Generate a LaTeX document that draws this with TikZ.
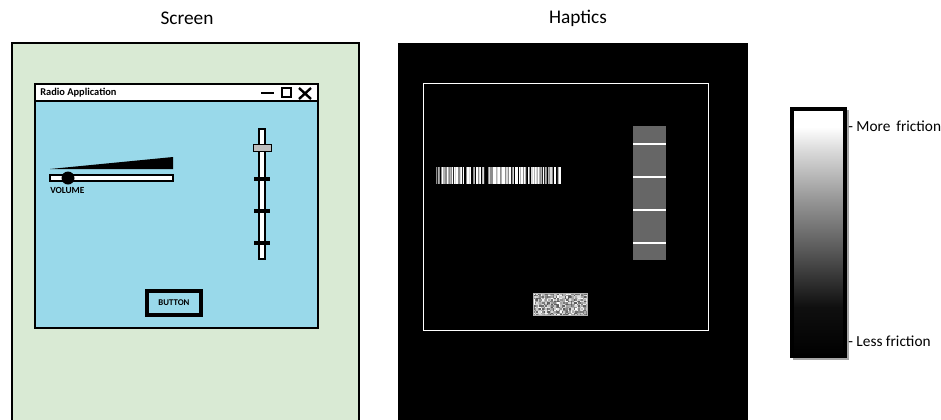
\documentclass[tikz,border=0pt]{standalone}
\usepackage{fontspec}
\setmainfont{Carlito}
\usetikzlibrary{positioning}
\definecolor{screengreen}{RGB}{217,234,212}
\definecolor{appblue}{RGB}{153,217,234}
\definecolor{hapgray}{RGB}{102,102,102}
\pgfdeclareverticalshading{friction}{100bp}{color(0bp)=(black); color(25bp)=(black); color(35bp)=(black!94); color(46.5bp)=(black!65); color(56.5bp)=(black!41); color(66.5bp)=(black!14); color(71bp)=(white); color(100bp)=(white)}
\tikzset{
    paneltitle/.style={font=\fontsize{14.5}{16}\selectfont, inner sep=0pt},
    legendlabel/.style={font=\fontsize{11.5}{13}\selectfont, anchor=west, inner sep=0pt},
    tinylabel/.style={font=\bfseries\fontsize{7}{8}\selectfont, inner sep=0pt},
    track/.style={draw=black, fill=white, line width=1.2pt},
    tick/.style={fill=black},
    stripe/.style={draw=white, line width=1.5pt}
}

\begin{document}
\begin{tikzpicture}[x=0.75pt, y=-0.75pt]
    \useasboundingbox (0,0) rectangle (941,419);
    % titles
    \node[paneltitle] (screentitle) at (187,18) {Screen};
    \node[paneltitle] (haptitle) at (578,18) {Haptics};
    % screen panel
    \begin{scope}
        \draw[fill=screengreen, line width=1.5pt] (12,425) -- (12,43) -- (359,43) -- (359,425);
        \draw[fill=appblue, line width=2.2pt] (35,84) rectangle (318,328);
        \draw[fill=white, line width=2.2pt] (35,84) rectangle (318,101);
        \node[font=\bfseries\fontsize{7.8}{9}\selectfont, anchor=west, inner sep=0pt] (apptitle) at (40,93) {Radio Application};
        \draw[line width=2.2pt] (261,93) -- (274,93);
        \draw[line width=1.6pt] (282,88) rectangle (291,97);
        \draw[line width=1.8pt] (299,88) -- (311,99) (311,88) -- (299,99);
        % volume
        \fill (50,169) -- (173,157) -- (173,169) -- cycle;
        \draw[track] (50,175) rectangle (173,181);
        \fill (68,178) circle (6.5);
        \node[tinylabel, anchor=west] (vol) at (50,190) {VOLUME};
        % vertical slider
        \draw[track] (259,129) rectangle (265,259);
        \foreach \ty in {179,211,243}
            \fill[tick] (254,\ty-2) rectangle (270,\ty+2);
        \draw[fill=black!25, line width=0.5pt] (253,144) rectangle (271,151);
        % button
        \draw[line width=3pt] (147,291) rectangle (201,315);
        \node[tinylabel, font=\bfseries\fontsize{6.6}{7}\selectfont] (btn) at (174,303) {BUTTON};
    \end{scope}
    % haptics panel
    \begin{scope}
        \fill[black] (398,43) rectangle (748,425);
        \draw[white, line width=0.6pt] (423,83) rectangle (708,330);
        % texture of the volume bar
        \pgfmathsetseed{11}
        \fill[black!45] (436,167) rectangle (561,184);
        \foreach \i in {0,...,124} {
            \pgfmathsetmacro\p{{0,100,70,85,55,100,15}[int(7*rnd)]}
            \fill[white!\p!black] (436+\i,167) rectangle ++(1,17);
        }
        % texture of the slider
        \fill[hapgray] (633,126) rectangle (666,260);
        \foreach \sy in {144,177,210,243}
            \draw[stripe] (633,\sy) -- (666,\sy);
        % texture of the button
        \foreach \i in {0,...,35}
            \foreach \j in {0,...,14} {
                \pgfmathsetmacro\p{35+65*rnd}
                \fill[white!\p!black] (533+1.5*\i,293+1.5*\j) rectangle ++(1.5,1.5);
            }
        \draw[black!30, line width=0.4pt] (533,293) rectangle (587,315.5);
    \end{scope}
    % friction legend
    \fill[black!35] (793,110) rectangle (849,360);
    \shade[shading=friction] (790,107) rectangle (846,357);
    \draw[line width=3pt] (791.5,108.5) rectangle (844.5,355.5);
    \node[legendlabel] (more) at (848,126) {- More\, friction};
    \node[legendlabel] (less) at (848,341) {- Less friction};
\end{tikzpicture}
\end{document}
